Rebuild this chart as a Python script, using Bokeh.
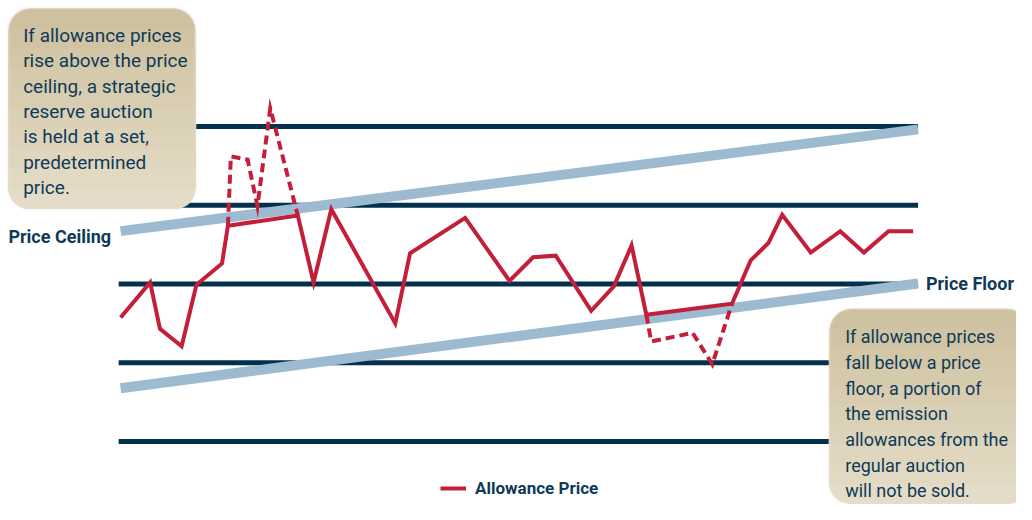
from bokeh.plotting import figure
from bokeh.models import Range1d, BoxAnnotation, Label, Legend, LegendItem
from bokeh.embed import file_html
from bokeh.resources import INLINE

# ---------------- data ----------------
periods = [0.0, 3.0, 4.0, 6.2, 7.7, 10.3, 10.9, 18.0, 19.6, 21.4, 27.9, 29.4, 35.0,
           39.5, 41.9, 44.2, 47.8, 50.1, 51.9, 53.4, 62.1, 64.0, 65.8, 67.2, 70.1,
           73.1, 75.5, 78.0, 80.5]
price = [1.575, 2.02, 1.43, 1.21, 1.99, 2.26, 2.74, 2.87, 2.02, 2.95, 1.50, 2.39, 2.84,
         2.04, 2.34, 2.36, 1.66, 1.97, 2.49, 1.61, 1.75, 2.30, 2.52, 2.88, 2.40,
         2.67, 2.40, 2.67, 2.67]
# unconstrained path above the ceiling (dashed)
above_periods = [10.9, 11.2, 12.9, 13.9, 15.2, 18.0]
above_price = [2.74, 3.62, 3.58, 2.99, 4.23, 2.87]
# unconstrained path below the floor (dashed)
below_periods = [53.4, 53.9, 58.1, 60.1, 62.1]
below_price = [1.61, 1.27, 1.38, 0.98, 1.75]
# ceiling / floor trend lines
band_periods = [0.0, 81.0]
ceiling = [2.671, 3.963]
floor = [0.677, 2.006]
# horizontal reference levels
levels = [0, 1, 2, 3, 4]
level_start = -0.2
level_end = 81.0

# ---------------- styling ----------------
NAVY = "#02304D"
TEXT = "#0F3A57"
RED = "#C41F3A"
BLUE = "#9CBBD0"
FONT = "Roboto"

W, H = 1016, 504
REF_W, REF_H = 1032, 520          # layout helpers work in the reference picture's pixels
XPX0, XSCALE = 122, 10.0          # picture x of period 0, pixels per period
YPX0, YSCALE = 455, 81.25         # picture y of level 0, pixels per level
SX, SY = W / REF_W, H / REF_H


def X(px):
    return (px - XPX0) / XSCALE


def Y(py):
    return (YPX0 - py) / YSCALE


p = figure(width=W, height=H, output_backend="svg", toolbar_location=None,
           x_range=Range1d(X(0), X(REF_W)), y_range=Range1d(Y(REF_H), Y(0)),
           x_axis_type=None, y_axis_type=None, min_border=0)
p.outline_line_color = None
p.grid.visible = False
p.background_fill_color = "white"

# reference levels
p.segment(x0=[level_start] * len(levels), x1=[level_end] * len(levels),
          y0=levels, y1=levels, line_color=NAVY, line_width=5, line_cap="butt")

# ceiling / floor bands
p.line(band_periods, ceiling, line_color=BLUE, line_width=10, line_cap="butt")
p.line(band_periods, floor, line_color=BLUE, line_width=10, line_cap="butt")

# dashed unconstrained paths
p.line(above_periods, above_price, line_color=RED, line_width=4, line_dash="9 5",
       line_join="miter")
p.line(below_periods, below_price, line_color=RED, line_width=4, line_dash="9 5",
       line_join="miter")
# actual allowance price
main = p.line(periods, price, line_color=RED, line_width=4, line_join="miter")


def mix(c1, c2, t):
    c = [round(a + (b - a) * t) for a, b in zip(c1, c2)]
    return "#%02x%02x%02x" % tuple(c)


def card(lpx, tpx, rpx, bpx, radius=22, steps=10):
    top_c = (0xCE, 0xC1, 0x9F)
    bot_c = (0xE7, 0xDF, 0xCC)
    L, R, T, B = X(lpx), X(rpx), Y(tpx), Y(bpx)
    p.add_layout(BoxAnnotation(left=L, right=R, top=T, bottom=B, fill_color=mix(top_c, bot_c, 0),
                               fill_alpha=1, line_color=None, border_radius=radius,
                               level="annotation"))
    for i in range(1, steps):
        t = i / steps
        ty = tpx + (bpx - tpx) * t
        p.add_layout(BoxAnnotation(left=L, right=R, top=Y(ty), bottom=B,
                                   fill_color=mix(top_c, bot_c, t), fill_alpha=1, line_color=None,
                                   border_radius=dict(top_left=0, top_right=0,
                                                      bottom_right=radius, bottom_left=radius),
                                   level="annotation"))
    p.add_layout(BoxAnnotation(left=L, right=R, top=T, bottom=B, fill_alpha=0,
                               line_color="#ECE5D3", line_width=3, border_radius=radius,
                               level="annotation"))


def text_lines(lines, xpx, first_ypx, step, size="19px"):
    for i, s in enumerate(lines):
        p.add_layout(Label(x=X(xpx), y=Y(first_ypx + i * step), text=s, text_font=FONT,
                           text_font_size=size, text_color=TEXT, text_baseline="middle",
                           text_align="left"))


card(8, 8, 198, 215)
text_lines(["If allowance prices", "rise above the price", "ceiling, a strategic",
            "reserve auction", "is held at a set,", "predetermined", "price."],
           23, 36, 26.2)

card(842, 318, 1045, 519)
text_lines(["If allowance prices", "fall below a price", "floor, a portion of",
            "the emission", "allowances from the", "regular auction",
            "will not be sold."],
           858, 347, 26.5, size="18px")

p.add_layout(Label(x=X(8), y=Y(243), text="Price Ceiling", text_font=FONT,
                   text_font_size="18px", text_font_style="bold", text_color=TEXT,
                   text_baseline="middle", text_align="left"))
p.add_layout(Label(x=X(940), y=Y(292), text="Price Floor", text_font=FONT,
                   text_font_size="18px", text_font_style="bold", text_color=TEXT,
                   text_baseline="middle", text_align="left"))

key_x = 447 * SX
key_y = (REF_H - 503) * SY
legend = Legend(items=[LegendItem(label="Allowance Price", renderers=[main])],
                location=(key_x, key_y - 10), padding=0, margin=0, spacing=0,
                glyph_width=26, glyph_height=20, label_height=20, label_standoff=9,
                border_line_color=None, background_fill_alpha=0,
                label_text_font=FONT, label_text_font_size="17px",
                label_text_font_style="bold", label_text_color=TEXT)
p.add_layout(legend)

open("out.html", "w").write(file_html(p, INLINE))
